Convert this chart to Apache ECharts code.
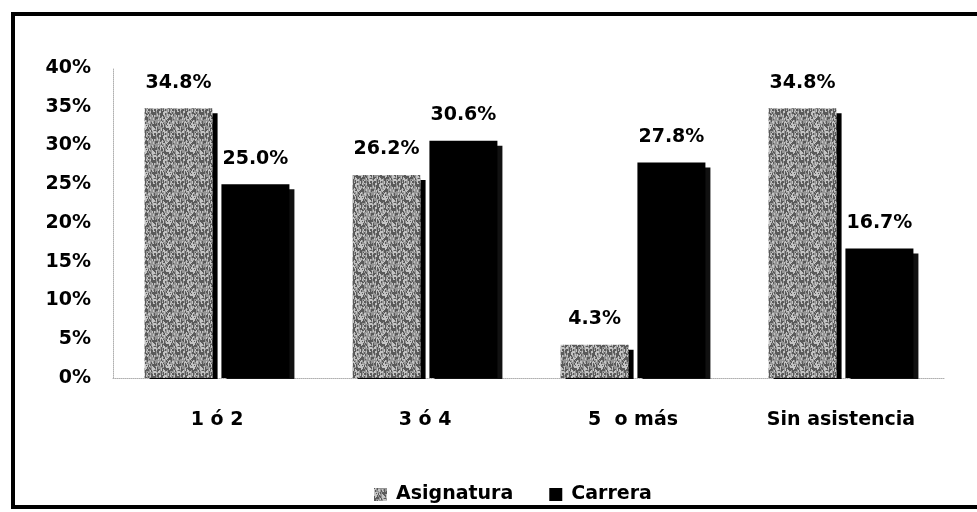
<!DOCTYPE html>
<html>
<head>
<meta charset="utf-8">
<script src="https://cdn.jsdelivr.net/npm/echarts@6/dist/echarts.min.js"></script>
<style>
  html, body { margin: 0; padding: 0; background: #fff; }
  #chart { width: 977px; height: 512px; }
</style>
</head>
<body>
<div id="chart"></div>
<script>
// Categories and values (percent)
var categories = ['1 ó 2', '3 ó 4', '5  o más', 'Sin asistencia'];
var asignatura = [34.8, 26.2, 4.3, 34.8];
var carrera = [25.0, 30.6, 27.8, 16.7];
var yTicks = [0, 5, 10, 15, 20, 25, 30, 35, 40];

var FONT = '"DejaVu Sans", sans-serif';
var FS = 19;

// Stippled grey fill for the "Asignatura" bars (vertical streaks)
function makeGrain() {
  var c = document.createElement('canvas');
  c.width = 24; c.height = 24;
  var ctx = c.getContext('2d');
  ctx.fillStyle = '#959595';
  ctx.fillRect(0, 0, 24, 24);
  var seed = 7;
  function next() { seed = (seed * 16807) % 2147483647; return seed / 2147483647; }
  for (var y = 0; y < 24; y++) {
    for (var x = 0; x < 24; x++) {
      var r = next();
      if (r < 0.24) { ctx.fillStyle = '#5a5a5a'; ctx.fillRect(x, y, 1, 2); }
      else if (r > 0.82) { ctx.fillStyle = '#c4c4c4'; ctx.fillRect(x, y, 1, 2); }
    }
  }
  return c;
}
var grain = { image: makeGrain(), repeat: 'repeat' };

var chart = echarts.init(document.getElementById('chart'));
var labelStyle = {
  show: true,
  position: 'top',
  distance: 16,
  fontFamily: FONT,
  fontWeight: 'bold',
  fontSize: FS,
  color: '#000',
  formatter: function (p) { return p.value.toFixed(1) + '%'; }
};

chart.setOption({
  backgroundColor: '#fff',
  animation: false,
  graphic: [
    {
      // frame round the chart
      type: 'rect',
      shape: { x: 13, y: 14, width: 990, height: 493 },
      style: { fill: 'none', stroke: '#000', lineWidth: 4 },
      silent: true, z: 100
    },
    {
      // keeps the side shading of the bars above the baseline
      type: 'rect',
      shape: { x: 110, y: 379, width: 840, height: 8 },
      style: { fill: '#fff' },
      silent: true, z: 99
    }
  ],
  grid: { left: 113, right: 32, top: 68, bottom: 134 },
  legend: {
    left: 369,
    top: 480,
    itemWidth: 13,
    itemHeight: 13,
    itemGap: 36,
    icon: 'rect',
    textStyle: { fontFamily: FONT, fontWeight: 'bold', fontSize: FS, color: '#000', padding: [0, 0, 0, 4] },
    data: ['Asignatura', 'Carrera']
  },
  xAxis: {
    type: 'category',
    data: categories,
    axisLine: { show: true, lineStyle: { color: '#b0b0b0', type: 'dotted', width: 1 } },
    axisTick: { show: false },
    axisLabel: { margin: 33, fontFamily: FONT, fontWeight: 'bold', fontSize: FS, color: '#000' }
  },
  yAxis: {
    type: 'value',
    min: yTicks[0],
    max: yTicks[yTicks.length - 1],
    interval: 5,
    axisLine: { show: true, lineStyle: { color: '#b0b0b0', type: 'dotted', width: 1 } },
    axisTick: { show: false },
    splitLine: { show: false },
    axisLabel: {
      margin: 22,
      fontFamily: FONT, fontWeight: 'bold', fontSize: FS, color: '#000',
      formatter: function (v) { return v + '%'; }
    }
  },
  series: [
    {
      name: 'Asignatura',
      type: 'bar',
      data: asignatura,
      barWidth: 68,
      barGap: '13%',
      itemStyle: {
        color: grain,
        shadowColor: '#000', shadowOffsetX: 5, shadowOffsetY: 5, shadowBlur: 0
      },
      label: labelStyle
    },
    {
      name: 'Carrera',
      type: 'bar',
      data: carrera,
      barWidth: 68,
      itemStyle: {
        color: '#000',
        shadowColor: '#111', shadowOffsetX: 5, shadowOffsetY: 5, shadowBlur: 0
      },
      label: labelStyle
    }
  ]
});
</script>
</body>
</html>
